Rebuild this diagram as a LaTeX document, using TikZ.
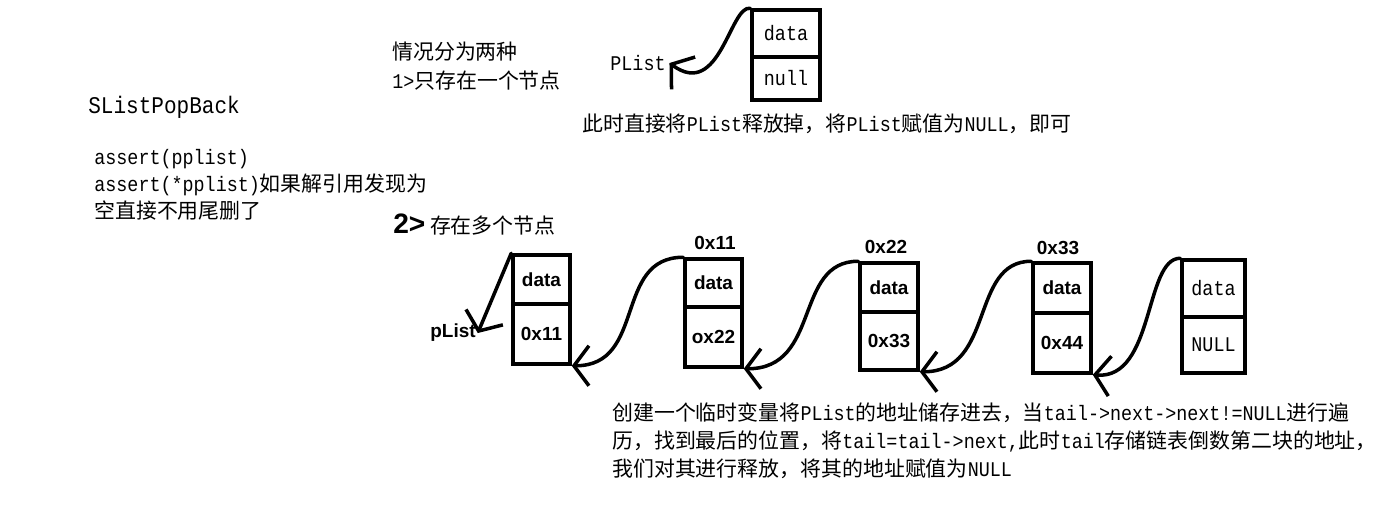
\documentclass[tikz,border=0pt]{standalone}
\usepackage{fontspec}
\setmainfont{Noto Sans CJK SC}
\setmonofont[FakeStretch=0.88]{Liberation Mono}
\newfontfamily\bsans{Liberation Sans}
\usetikzlibrary{arrows.meta}
\newcommand\basefont{\fontsize{11.9}{15.3}\selectfont}
\newcommand\boxfont{\bsans\bfseries\fontsize{10.8}{13}\selectfont}
\tikzset{
  cell/.style  = {draw, line width=2pt, inner sep=0pt},
  cellt/.style = {cell, font=\basefont\ttfamily},
  cellb/.style = {cell, font=\boxfont},
  lnk/.style   = {-{Straight Barb[length=3mm,width=8mm]}, line width=2pt,
                  line cap=round},
  addr/.style  = {font=\boxfont, inner sep=1pt},
  note/.style  = {anchor=west, inner sep=0pt, align=left, font=\basefont},
}

\begin{document}
\begin{tikzpicture}[x=0.02cm, y=-0.02cm]
\useasboundingbox (0,0) rectangle (1400,522);
% left column
\node[note, font=\fontsize{13.6}{17}\selectfont\ttfamily] (title) at (88,107) {SListPopBack};
\node[note] (chk) at (94,185)
     {\texttt{assert(pplist)}\\\texttt{assert(*pplist)}如果解引用发现为\\空直接不用尾删了};
% case 1
\node[note] (case0) at (392,52) {情况分为两种};
\node[note] (case1) at (392,81) {\texttt{1>}只存在一个节点};
\node[font=\basefont\ttfamily, inner sep=2pt] (pl1) at (638,63) {PList};
\node[cellt, minimum width=1.36cm, minimum height=0.94cm] (t1d) at (786,33.5) {data};
\node[cellt, minimum width=1.36cm, minimum height=0.86cm] (t1n) at (786,78.5) {null};
\draw[lnk] (t1d.north west) .. controls (730,5) and (720,100) .. (pl1.east);
\node[note] (note1) at (582,124)
     {此时直接将\texttt{PList}释放掉，将\texttt{PList}赋值为\texttt{NULL}，即可};
% case 2
\node[note] (case2) at (393,225)
     {{\bsans\bfseries\fontsize{16}{19}\selectfont 2>} 存在多个节点};
\node[addr] (pl2) at (453,333) {pList};
\node[cellb, minimum width=1.14cm, minimum height=0.98cm] (n1d) at (541.5,279.5) {data};
\node[cellb, minimum width=1.14cm, minimum height=1.2cm]  (n1p) at (541.5,334) {0x11};
\node[cellb, minimum width=1.14cm, minimum height=0.96cm] (n2d) at (713.5,283) {data};
\node[cellb, minimum width=1.14cm, minimum height=1.2cm]  (n2p) at (713.5,337) {ox22};
\node[cellb, minimum width=1.16cm, minimum height=0.98cm] (n3d) at (889,287.5) {data};
\node[cellb, minimum width=1.16cm, minimum height=1.16cm] (n3p) at (889,341) {0x33};
\node[cellb, minimum width=1.16cm, minimum height=1.0cm]  (n4d) at (1062,288) {data};
\node[cellb, minimum width=1.16cm, minimum height=1.2cm]  (n4p) at (1062,343) {0x44};
\node[cellt, minimum width=1.26cm, minimum height=1.14cm] (n5d) at (1213.5,288.5) {data};
\node[cellt, minimum width=1.26cm, minimum height=1.12cm] (n5p) at (1213.5,345) {NULL};
\node[addr] (a2) at (715,243) {0x11};
\node[addr] (a3) at (886,247) {0x22};
\node[addr] (a4) at (1058,248) {0x33};
\draw[lnk] (n1d.north west) -- (pl2.east);
\draw[lnk] (n2d.north west) .. controls +(-70,0) and +(75,0) .. (n1p.south east);
\draw[lnk] (n3d.north west) .. controls +(-65,0) and +(78,0) .. (n2p.south east);
\draw[lnk] (n4d.north west) .. controls +(-62,0) and +(76,0) .. (n3p.south east);
\draw[lnk] (n5d.north west) .. controls +(-36,0) and +(62,5) .. (n4p.south east);
\node[note, font=\fontsize{11.9}{15.9}\selectfont] (note2) at (612,441)
     {创建一个临时变量将\texttt{PList}的地址储存进去，当\texttt{tail->next->next!=NULL}进行遍\\
      历，找到最后的位置，将\texttt{tail=tail->next,}此时\texttt{tail}存储链表倒数第二块的地址，\\
      我们对其进行释放，将其的地址赋值为\texttt{NULL}};
\end{tikzpicture}
\end{document}
